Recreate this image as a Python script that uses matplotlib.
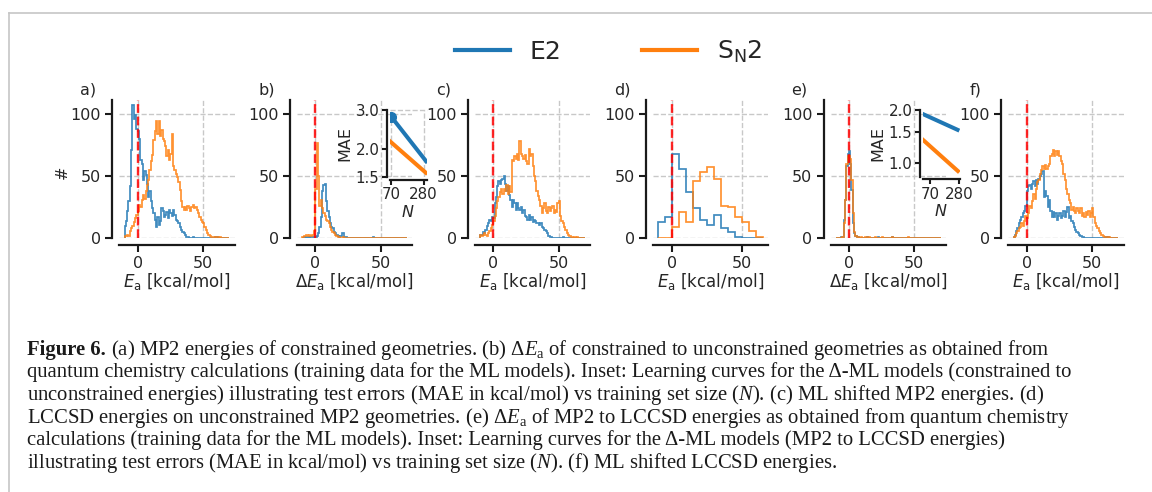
import numpy as np
import matplotlib
matplotlib.use("Agg")
import matplotlib.pyplot as plt
from matplotlib.lines import Line2D
from matplotlib.ticker import FixedLocator, NullLocator, FixedFormatter

# ---------------- data ----------------
edges_fine = np.arange(-10, 71, 1)      # 1 kcal/mol bins, -10 .. 70
edges_d = np.arange(-10, 66, 5)         # 5 kcal/mol bins, -10 .. 65

a_E2 = [10, 14, 22, 30, 42, 71, 107, 96, 99, 88,
        86, 80, 63, 60, 47, 54, 51, 44, 33, 38,
        30, 24, 20, 15, 9, 17, 11, 14, 24, 22,
        17, 19, 21, 16, 23, 20, 18, 23, 19, 15,
        14, 12, 9, 7, 5, 4, 3, 1, 1, 0,
        0, 0, 1, 0, 0, 0, 0, 0, 0, 0,
        0, 0, 0, 0, 0, 0, 0, 0, 0, 1,
        1, 0, 0, 0, 0, 0, 0, 0, 0, 0]
a_SN2 = [2, 2, 3, 2, 6, 8, 10, 13, 16, 19,
         22, 27, 25, 31, 35, 32, 38, 43, 47, 55,
         62, 67, 79, 86, 94, 84, 94, 82, 87, 80,
         78, 74, 66, 71, 63, 68, 84, 58, 55, 52,
         49, 45, 39, 30, 25, 23, 25, 23, 26, 24,
         22, 25, 27, 24, 25, 23, 20, 17, 15, 13,
         12, 9, 7, 4, 3, 2, 1, 1, 1, 0,
         1, 1, 0, 1, 0, 0, 0, 0, 0, 0]

b_E2 = [0, 1, 1, 0, 1, 0, 1, 1, 1, 1,
        1, 2, 4, 9, 17, 38, 43, 44, 30, 22,
        17, 12, 9, 8, 5, 4, 3, 2, 1, 2,
        4, 4, 1, 1, 0, 0, 0, 0, 0, 0,
        0, 0, 0, 0, 0, 0, 0, 0, 0, 0,
        0, 0, 0, 0, 1, 0, 0, 0, 0, 0,
        0, 0, 0, 0, 0, 0, 0, 0, 0, 0,
        0, 0, 0, 0, 0, 0, 0, 0, 0, 0]
b_SN2 = [1, 2, 2, 3, 2, 3, 2, 3, 3, 6,
         40, 77, 50, 26, 31, 24, 20, 18, 15, 14,
         12, 9, 7, 5, 4, 3, 2, 1, 1, 0,
         0, 1, 0, 0, 0, 0, 0, 0, 0, 0,
         0, 0, 0, 0, 0, 0, 0, 0, 0, 0,
         0, 0, 0, 0, 0, 0, 0, 0, 0, 0,
         0, 0, 0, 0, 0, 0, 0, 0, 0, 0,
         0, 0, 0, 0, 0, 0, 0, 0, 0, 0]

c_E2 = [3, 3, 5, 4, 7, 10, 12, 15, 14, 17,
        16, 28, 33, 42, 46, 44, 47, 48, 50, 44,
        38, 42, 35, 31, 25, 31, 28, 23, 28, 24,
        23, 25, 20, 23, 18, 17, 15, 19, 15, 17,
        13, 15, 14, 12, 12, 11, 12, 9, 8, 7,
        6, 4, 2, 1, 1, 0, 0, 0, 0, 0,
        0, 0, 0, 1, 0, 0, 0, 0, 0, 0,
        0, 0, 0, 0, 0, 0, 0, 0, 0, 0]
c_SN2 = [3, 2, 3, 4, 3, 2, 4, 6, 8, 11,
         14, 18, 24, 30, 33, 37, 40, 36, 40, 38,
         43, 36, 42, 37, 63, 62, 66, 64, 68, 63,
         78, 68, 66, 64, 67, 62, 60, 72, 66, 68,
         58, 50, 46, 38, 34, 31, 26, 20, 24, 28,
         22, 20, 25, 22, 24, 26, 20, 23, 21, 28,
         30, 18, 14, 12, 9, 7, 4, 3, 2, 1,
         1, 0, 1, 0, 1, 0, 0, 0, 0, 0]

d_E2 = [13, 17, 68, 56, 37, 24, 15, 11, 19, 8, 5, 1, 0, 0, 0]
d_SN2 = [0, 0, 9, 21, 13, 46, 53, 57, 48, 26, 25, 17, 13, 6, 1]

e_E2 = [0, 0, 0, 0, 1, 1, 15, 31, 58, 68,
        70, 60, 39, 12, 4, 2, 1, 1, 0, 0,
        0, 0, 0, 0, 1, 0, 0, 0, 0, 0,
        0, 0, 1, 0, 0, 0, 0, 0, 0, 0,
        0, 0, 0, 1, 0, 0, 0, 0, 0, 0,
        0, 0, 0, 0, 0, 0, 0, 0, 0, 0,
        0, 0, 0, 0, 0, 0, 0, 0, 0, 0,
        0, 0, 0, 0, 0, 0, 0, 0, 0, 0]
e_SN2 = [0, 0, 0, 0, 0, 1, 12, 31, 60, 66,
         66, 64, 47, 20, 5, 2, 1, 1, 0, 1,
         0, 0, 1, 0, 0, 1, 0, 0, 0, 0,
         1, 0, 0, 0, 0, 1, 0, 0, 0, 0,
         0, 0, 0, 1, 0, 0, 0, 0, 0, 0,
         0, 0, 0, 0, 0, 1, 0, 0, 0, 0,
         0, 0, 0, 0, 0, 0, 0, 0, 0, 0,
         0, 0, 0, 0, 0, 0, 0, 0, 0, 0]

f_E2 = [1, 3, 6, 8, 12, 15, 17, 20, 22, 26,
        38, 42, 43, 40, 44, 46, 42, 47, 44, 48,
        50, 52, 54, 33, 38, 34, 25, 31, 22, 17,
        21, 17, 20, 15, 18, 20, 16, 18, 22, 17,
        21, 25, 16, 18, 14, 12, 9, 7, 5, 4,
        3, 2, 1, 1, 0, 0, 0, 0, 0, 0,
        0, 0, 0, 0, 0, 0, 0, 0, 0, 0,
        1, 0, 1, 0, 0, 0, 0, 0, 0, 0]
f_SN2 = [1, 2, 4, 6, 8, 9, 12, 10, 14, 18,
         16, 20, 26, 24, 30, 36, 32, 40, 45, 47,
         52, 55, 58, 56, 59, 56, 58, 60, 66, 68,
         71, 66, 70, 67, 70, 66, 62, 60, 52, 47,
         40, 36, 31, 28, 23, 25, 22, 20, 24, 22,
         20, 24, 18, 20, 17, 21, 19, 22, 17, 20,
         24, 17, 12, 10, 8, 6, 4, 3, 2, 1,
         1, 1, 0, 1, 0, 0, 0, 0, 0, 0]

# learning-curve insets (N, MAE in kcal/mol)
inset_ticks_N = [70, 280]
b_N_E2, b_MAE_E2 = [70, 330], [2.80, 1.74]
b_N_SN2, b_MAE_SN2 = [60, 330], [2.22, 1.55]
e_N_E2, e_MAE_E2 = [45, 280], [1.92, 1.53]
e_N_SN2, e_MAE_SN2 = [45, 280], [1.39, 0.89]
b_MAE_ticks = [1.5, 2.0, 3.0]
e_MAE_ticks = [1.0, 1.5, 2.0]

panel_letters = ["a)", "b)", "c)", "d)", "e)", "f)"]
xlabels = [r"$E_\mathrm{a}$ [kcal/mol]", r"$\Delta E_\mathrm{a}$ [kcal/mol]",
           r"$E_\mathrm{a}$ [kcal/mol]", r"$E_\mathrm{a}$ [kcal/mol]",
           r"$\Delta E_\mathrm{a}$ [kcal/mol]", r"$E_\mathrm{a}$ [kcal/mol]"]
series_labels = ["E2", r"S$_\mathrm{N}$2"]

caption_head = "Figure 6."
caption_lines = [
    r"(a) MP2 energies of constrained geometries. (b) Δ$E_\mathrm{a}$ of constrained to unconstrained geometries as obtained from",
    "quantum chemistry calculations (training data for the ML models). Inset: Learning curves for the Δ-ML models (constrained to",
    r"unconstrained energies) illustrating test errors (MAE in kcal/mol) vs training set size ($N$). (c) ML shifted MP2 energies. (d)",
    r"LCCSD energies on unconstrained MP2 geometries. (e) Δ$E_\mathrm{a}$ of MP2 to LCCSD energies as obtained from quantum chemistry",
    "calculations (training data for the ML models). Inset: Learning curves for the Δ-ML models (MP2 to LCCSD energies)",
    r"illustrating test errors (MAE in kcal/mol) vs training set size ($N$). (f) ML shifted LCCSD energies.",
]

# ---------------- style ----------------
W, H, DPI = 1152, 492, 100
C_E2, C_SN2 = "#1f77b4", "#ff7f0e"
TXT = "#262626"
plt.rcParams.update({
    "font.family": ["DejaVu Sans"],
    "mathtext.fontset": "dejavusans",
    "mathtext.rm": "Liberation Serif",
    "mathtext.it": "Liberation Serif:italic",
    "mathtext.bf": "Liberation Serif:bold",
    "text.color": TXT,
    "axes.labelcolor": TXT,
    "xtick.color": "#1a1a1a",
    "ytick.color": "#1a1a1a",
    "xtick.labelcolor": TXT,
    "ytick.labelcolor": TXT,
})

fig = plt.figure(figsize=(W / DPI, H / DPI), dpi=DPI)
fig.patch.set_facecolor("white")


def fx(x):
    return x / W


def fy(y):
    return 1 - y / H


# frame of the figure box
fig.add_artist(Line2D([fx(8.5), 1.0], [fy(12.5), fy(12.5)], transform=fig.transFigure,
                      color="#c6c6c6", lw=1.2))
fig.add_artist(Line2D([fx(8.5), fx(8.5)], [fy(12.5), 0.0], transform=fig.transFigure,
                      color="#c6c6c6", lw=1.2))

panels = [
    (a_E2, a_SN2, edges_fine, (-14, 74)),
    (b_E2, b_SN2, edges_fine, (-14, 74)),
    (c_E2, c_SN2, edges_fine, (-14, 74)),
    (d_E2, d_SN2, edges_d, (-13.75, 68.75)),
    (e_E2, e_SN2, edges_fine, (-14, 74)),
    (f_E2, f_SN2, edges_fine, (-14, 74)),
]

AX_W = 115.3
AX_TOP, AX_BOT = 100.3, 238.3
axes = []
for i, (blue, orange, edges, xl) in enumerate(panels):
    left = 119.3 + 177.8 * i
    ax = fig.add_axes([fx(left), fy(AX_BOT), AX_W / W, (AX_BOT - AX_TOP) / H])
    axes.append(ax)
    ax.set_facecolor("none")
    ax.stairs(blue, edges, color=C_E2, lw=1.25, alpha=0.85, baseline=0, zorder=2)
    ax.stairs(orange, edges, color=C_SN2, lw=1.25, alpha=0.85, baseline=0, zorder=2.1)
    ax.axvline(0, color="red", ls="--", lw=1.7, alpha=0.85, zorder=3)
    ax.set_xlim(*xl)
    ax.set_ylim(0, 111)
    ax.set_xticks([0, 50])
    ax.set_yticks([0, 50, 100])
    ax.grid(True, ls="--", color="#c8c8c8", lw=1.0, zorder=0)
    ax.set_axisbelow(True)
    for s in ("top", "right"):
        ax.spines[s].set_visible(False)
    for s in ("left", "bottom"):
        ax.spines[s].set_position(("outward", 5))
        ax.spines[s].set_linewidth(1.6)
        ax.spines[s].set_color("#1a1a1a")
    ax.tick_params(axis="both", length=5, width=1.5, labelsize=11.5)
    ax.tick_params(axis="x", pad=2.8)
    ax.tick_params(axis="y", pad=3.0)
    cx = left + AX_W / 2
    fig.text(fx(cx), fy(287.5), xlabels[i], ha="center", va="baseline", fontsize=12)
    fig.text(fx(left - 39), fy(94.5), panel_letters[i], ha="left", va="baseline", fontsize=11.5)

fig.text(fx(62), fy(172), "#", rotation=90, ha="center", va="center", fontsize=11.5)


def make_inset(box, xlim, ylim, yticks, lines, grid):
    x0, y0, x1, y1 = box
    ia = fig.add_axes([fx(x0), fy(y1), (x1 - x0) / W, (y1 - y0) / H])
    ia.set_facecolor("none")
    ia.set_xscale("log")
    ia.set_yscale("log")
    for (n, m, c, mk) in lines:
        ia.plot(n, m, color=c, lw=2.9, solid_capstyle="butt", zorder=3,
                marker="o" if mk else None, markevery=[0] if mk else None, ms=7)
    ia.set_xlim(*xlim)
    ia.set_ylim(*ylim)
    ia.xaxis.set_major_locator(FixedLocator(inset_ticks_N))
    ia.xaxis.set_major_formatter(FixedFormatter([str(t) for t in inset_ticks_N]))
    ia.xaxis.set_minor_locator(NullLocator())
    ia.yaxis.set_major_locator(FixedLocator(yticks))
    ia.yaxis.set_major_formatter(FixedFormatter(["%.1f" % t for t in yticks]))
    ia.yaxis.set_minor_locator(NullLocator())
    for s in ("top", "right"):
        ia.spines[s].set_visible(False)
    for s in ("left", "bottom"):
        ia.spines[s].set_position(("outward", 1.8))
        ia.spines[s].set_linewidth(1.6)
        ia.spines[s].set_color("#1a1a1a")
    ia.tick_params(axis="both", length=3.5, width=1.5, labelsize=10.8, pad=2)
    if grid:
        ia.grid(True, axis="x", ls="--", color="#c8c8c8", lw=1.0)
        ia.axhline(ylim[1], ls="--", color="#c8c8c8", lw=1.0, clip_on=False, zorder=1)
    ia.set_ylabel("MAE", fontsize=11.5, labelpad=2)
    ia.set_xlabel(r"$N$", fontsize=11.5, labelpad=1)
    return ia


make_inset((389.5, 110.0, 426.7, 177.3), (65, 320), (1.5, 3.0), b_MAE_ticks,
           [(b_N_E2, b_MAE_E2, C_E2, True), (b_N_SN2, b_MAE_SN2, C_SN2, False)], True)
make_inset((922.5, 110.0, 960.0, 176.8), (48.5, 289), (0.84, 2.0), e_MAE_ticks,
           [(e_N_E2, e_MAE_E2, C_E2, False), (e_N_SN2, e_MAE_SN2, C_SN2, False)], False)

# legend
handles = [Line2D([], [], color=C_E2, lw=3.0), Line2D([], [], color=C_SN2, lw=3.0)]
fig.legend(handles, series_labels, loc="center", bbox_to_anchor=(fx(608.5), fy(52)),
           ncol=2, frameon=False, fontsize=18, handlelength=2.2, handletextpad=0.8,
           columnspacing=3.2)

# caption
CAP_FS = 14.9
CAP_COL = "#1a1a1a"
cap_base = [354.5, 377.2, 400.0, 422.7, 445.4, 468.1]
renderer = fig.canvas.get_renderer()
head = fig.text(fx(27), fy(cap_base[0]), caption_head, ha="left", va="baseline",
                fontsize=CAP_FS, family="Liberation Serif", fontweight="bold", color=CAP_COL)
head_end = head.get_window_extent(renderer).x1  # pixels from left
for k, (yb, line) in enumerate(zip(cap_base, caption_lines)):
    x_start = (head_end + 5.5) if k == 0 else 27
    fig.text(fx(x_start), fy(yb), line, ha="left", va="baseline", fontsize=CAP_FS,
             family="Liberation Serif", color=CAP_COL, math_fontfamily="custom")

fig.savefig("out.png", dpi=DPI, facecolor="white")
